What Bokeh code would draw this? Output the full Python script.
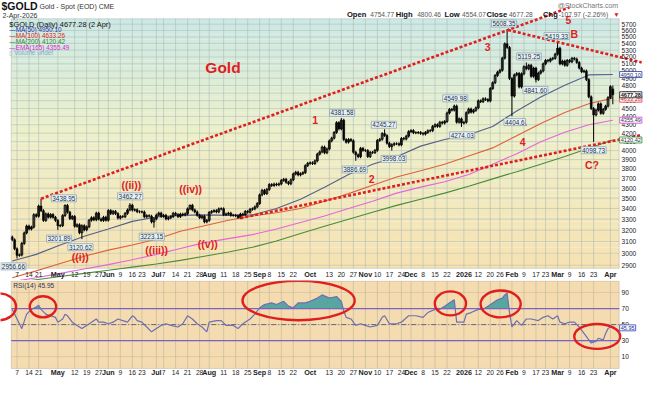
import math
import pandas as pd
from bokeh.plotting import figure
from bokeh.models import Range1d, Label, BoxAnnotation
from bokeh.layouts import column
from bokeh.embed import file_html
from bokeh.resources import INLINE

FONT = "Liberation Sans"

# ---------------- DATA ----------------
holidays = ["2025-04-18", "2025-05-26", "2025-06-19", "2025-07-04", "2025-09-01",
            "2025-11-27", "2025-12-25", "2026-01-01", "2026-01-19", "2026-02-16"]

closes = [
    3115, 3037, 2982, 2985, 3083, 3175, 3237, 3210, 3228, 3342, 3327, 3424, 3380, 3288, 3349, 3319,
    3343, 3317, 3288, 3239, 3241, 3334, 3430, 3365, 3305, 3325, 3235, 3249, 3176, 3240, 3203, 3230,
    3290, 3314, 3294, 3357, 3301, 3288, 3318, 3290, 3381, 3352, 3373, 3352, 3310, 3325, 3323, 3354,
    3387, 3432, 3385, 3388, 3370, 3368, 3368, 3322, 3333, 3328, 3274, 3303, 3338, 3357, 3326, 3336,
    3302, 3313, 3324, 3355, 3343, 3324, 3347, 3339, 3350, 3397, 3431, 3387, 3368, 3337, 3314, 3327,
    3275, 3289, 3363, 3373, 3380, 3368, 3397, 3398, 3342, 3348, 3356, 3336, 3336, 3332, 3316, 3347,
    3339, 3372, 3365, 3393, 3397, 3416, 3448, 3533, 3578, 3545, 3587, 3636, 3627, 3641, 3634, 3643,
    3679, 3690, 3659, 3644, 3685, 3746, 3764, 3736, 3749, 3760, 3834, 3859, 3865, 3857, 3886, 3960,
    3985, 4040, 3975, 4018, 4110, 4142, 4208, 4326, 4250, 4356, 4125, 4095, 4126, 4112, 3981, 3952,
    3931, 4025, 4002, 4000, 3933, 3980, 3977, 4002, 4115, 4128, 4195, 4172, 4083, 4045, 4066, 4078,
    4077, 4064, 4138, 4131, 4164, 4218, 4230, 4205, 4205, 4208, 4197, 4189, 4208, 4228, 4230, 4280,
    4300, 4280, 4330, 4320, 4340, 4444, 4490, 4480, 4532, 4331, 4372, 4320, 4330, 4447, 4494, 4455,
    4477, 4509, 4598, 4588, 4625, 4615, 4597, 4760, 4838, 4937, 4983, 5010, 5183, 5395, 5340, 4895,
    4660, 4945, 4965, 4780, 4960, 5060, 5030, 5080, 4925, 5040, 4880, 4970, 5000, 5100, 5150, 5140,
    5170, 5180, 5240, 5330, 5100, 5140, 5080, 5150, 5130, 5180, 5170, 5120, 5040, 4990, 5000, 4880,
    4650, 4500, 4420, 4480, 4560, 4440, 4490, 4530, 4640, 4785.25, 4677.28]

open_marks = {0: 3140, 250: 4754.77}
high_marks = {12: 3495, 22: 3440, 49: 3452, 74: 3438, 137: 4381.58, 155: 4245.27, 184: 4549.98,
              206: 5608.35, 214: 5119.25, 227: 5419.33, 250: 4800.46}
low_marks = {2: 2956.66, 19: 3201.89, 29: 3120.62, 59: 3223.15, 143: 3886.69, 158: 3998.03,
             187: 4274.03, 208: 4404.6, 218: 4841.60, 242: 4098.73, 250: 4554.07}
WICK = 0.004  # drawing extension of ordinary wicks

ma_idx = list(range(0, 251, 10))
ma50 = [2935, 2990, 3070, 3145, 3210, 3280, 3320, 3335, 3340, 3335, 3340, 3400, 3490, 3610, 3740,
        3850, 3930, 4050, 4125, 4180, 4280, 4470, 4648, 4805, 4945, 4950.10]
ma100 = [2800, 2855, 2915, 2975, 3026, 3070, 3120, 3190, 3240, 3290, 3330, 3360, 3400, 3470, 3545,
         3630, 3715, 3780, 3850, 3940, 4030, 4170, 4315, 4450, 4560, 4633.26]
ema165 = [2770, 2800, 2835, 2870, 2905, 2945, 2990, 3040, 3090, 3125, 3160, 3210, 3270, 3330, 3400,
          3470, 3550, 3610, 3665, 3740, 3850, 3965, 4100, 4210, 4300, 4355.49]
ma200 = [2760, 2785, 2810, 2835, 2860, 2885, 2910, 2940, 2975, 3010, 3050, 3105, 3170, 3235, 3300,
         3365, 3430, 3490, 3550, 3620, 3695, 3770, 3850, 3935, 4025, 4120.42]

rsi_idx = [0, 4, 6, 8, 10, 11, 12, 14, 16, 18, 19, 21, 22, 23, 25, 27, 29, 31, 33, 35, 36, 38, 40, 42,
           44, 46, 48, 50, 51, 52, 54, 56, 58, 60, 62, 64, 66, 69, 71, 73, 75, 77, 79, 81, 82, 85, 87,
           89, 92, 94, 96, 99, 101, 103, 105, 108, 110, 113, 115, 117, 119, 122, 124, 127, 129, 132,
           135, 137, 138, 139, 141, 143, 145, 147, 149, 152, 154, 155, 157, 160, 162, 165, 168, 171,
           173, 176, 178, 180, 183, 184, 185, 188, 189, 191, 194, 196, 198, 200, 202, 204, 205, 206,
           207, 208, 210, 212, 214, 216, 219, 221, 223, 225, 227, 228, 230, 232, 234, 236, 237, 239,
           241, 243, 244, 246, 247, 248, 249, 250]
rsi_val = [69, 45, 63, 69, 72, 74, 69, 63, 61, 59, 53, 57, 63, 61, 53, 49, 45, 49, 53, 57, 53, 53, 51,
           53, 57, 55, 53, 61, 59, 55, 53, 47, 41, 45, 49, 51, 49, 47, 51, 61, 57, 51, 47, 41, 53, 55,
           55, 49, 49, 45, 51, 57, 63, 71, 75, 77, 75, 79, 73, 71, 77, 77, 79, 83, 87, 83, 85, 79, 67,
           59, 57, 49, 51, 49, 47, 49, 59, 61, 51, 51, 53, 61, 61, 59, 65, 69, 69, 73, 79, 81, 53, 53,
           63, 65, 69, 69, 73, 77, 81, 83, 87, 89, 65, 47, 55, 49, 57, 57, 55, 59, 61, 57, 61, 53, 51,
           53, 53, 47, 43, 35, 27, 29, 33, 31, 39, 45, 47, 45.95]

price_ticks = list(range(2900, 5800, 100))
rsi_ticks = [10, 30, 50, 70, 90]

tick_dates = ["2025-04-07", "2025-04-14", "2025-04-21", "2025-05-01", "2025-05-12", "2025-05-19",
              "2025-05-27", "2025-06-02", "2025-06-09", "2025-06-16", "2025-06-23", "2025-07-01",
              "2025-07-07", "2025-07-14", "2025-07-21", "2025-07-28", "2025-08-01", "2025-08-11",
              "2025-08-18", "2025-08-25", "2025-09-02", "2025-09-08", "2025-09-15", "2025-09-22",
              "2025-10-01", "2025-10-13", "2025-10-20", "2025-10-27", "2025-11-03", "2025-11-10",
              "2025-11-17", "2025-11-24", "2025-12-01", "2025-12-08", "2025-12-15", "2025-12-22",
              "2026-01-02", "2026-01-12", "2026-01-20", "2026-01-26", "2026-02-02", "2026-02-09",
              "2026-02-17", "2026-02-23", "2026-03-02", "2026-03-09", "2026-03-16", "2026-03-23",
              "2026-04-01"]
tick_text = ["7", "14", "21", "May", "12", "19", "27", "Jun", "9", "16", "23", "Jul", "7", "14", "21",
             "28", "Aug", "11", "18", "25", "Sep", "8", "15", "22", "Oct", "13", "20", "27", "Nov",
             "10", "17", "24", "Dec", "8", "15", "22", "2026", "12", "20", "26", "Feb", "9", "17",
             "23", "Mar", "9", "16", "23", "Apr"]

# annotations: (text, index, price)
wave_labels = [("1", 126.1, 4363), ("2", 149.6, 3693), ("3", 197.9, 5353), ("4", 212.5, 4102),
               ("5", 231.5, 5770), ("A", 212.7, 4332), ("B", 234.0, 5544), ("C?", 241.3, 3840),
               ("((i))", 28.3, 2970), ("((ii))", 49.6, 3629), ("((iii))", 60.1, 3026),
               ("((iv))", 74.3, 3590), ("((v))", 81.4, 3080)]
price_notes = [("2956.66", 0.5, 2891), ("3438.95", 21.5, 3499), ("3201.89", 19.5, 3125),
               ("3120.62", 28.4, 3051), ("3462.27", 49.1, 3518), ("3223.15", 58.1, 3142),
               ("4381.58", 137.3, 4446), ("3886.69", 142.6, 3793), ("4245.27", 154.7, 4300),
               ("3998.03", 158.8, 3908), ("4549.98", 184.4, 4630), ("4274.03", 187.3, 4174),
               ("5608.35", 204.7, 5711), ("5119.25", 215.1, 5207), ("4404.6", 209.2, 4332),
               ("4841.60", 217.8, 4739), ("5419.33", 226.6, 5514), ("4098.73", 242.0, 4004)]
# trend lines (index, price)
trend_up = ([12.0, 206.4, 232.0], [3495, 5608.35, 5975])
trend_down = ([206.4, 262.0], [5608.35, 5121])
trend_low = ([95.0, 262.0], [3310, 4179])
# RSI ellipses: (index, rsi, width, height)
rsi_rings = [(-5.7, 72.2, 14.6, 33.5), (12.8, 72.2, 11.0, 26.3), (119.2, 80.0, 46.7, 49.0),
             (182.4, 76.4, 13.0, 29.9), (203.3, 75.8, 16.7, 33.5), (243.5, 35.2, 19.1, 31.0)]

# ---------------- LAYOUT HELPERS (reference-pixel -> axis units, for page furniture) ----------
def rx(x):
    return (x - 12.0) / 2.462


def ry(y):
    return 5700 * math.exp(-(y - 24.7) / 371.6)


def rr(y):
    return (379.4 - y) / 0.836


def lab(fig, x, y, text, size, color="#000000", style="normal", align="left",
        baseline="middle", bg=None, border=None, pad=0, bw=0.8):
    kw = dict(x=x, y=y, text=text, text_font=FONT, text_font_size=f"{size}px",
              text_color=color, text_font_style=style, text_align=align,
              text_baseline=baseline)
    if bg:
        kw.update(background_fill_color=bg, background_fill_alpha=1.0)
    if border:
        kw.update(border_line_color=border, border_line_width=bw)
    if pad:
        kw.update(padding=pad)
    fig.add_layout(Label(**kw))


days = [d for d in pd.bdate_range("2025-04-03", "2026-04-02")
        if d.strftime("%Y-%m-%d") not in holidays]
day_pos = {d.strftime("%Y-%m-%d"): i for i, d in enumerate(days)}
tick_idx = [day_pos[d] for d in tick_dates]

W = 646
XL, XR = rx(11), rx(634)          # inner panel edges
PB, PT = ry(279), ry(19)          # price panel bottom / top
RB, RT = rr(383.3), rr(292.3)     # rsi panel bottom / top
GRID = "#b0bcb4"


def base_fig(height, yr, log=False):
    f = figure(width=W, height=height, output_backend="svg", toolbar_location=None,
               x_range=Range1d(rx(0), rx(662)), y_range=yr,
               y_axis_type="log" if log else "linear",
               x_axis_location=None, y_axis_location=None,
               min_border=0, min_border_left=0, min_border_right=0,
               min_border_top=0, min_border_bottom=0)
    f.outline_line_color = None
    f.background_fill_color = "white"
    f.border_fill_color = "white"
    f.xgrid.visible = False
    f.ygrid.visible = False
    return f


# ---------------- PRICE PANEL ----------------
p = base_fig(280, Range1d(ry(280 / 0.96), ry(0)), log=True)

stops = [(0.0, (203, 233, 230)), (0.45, (236, 240, 203)), (1.0, (247, 226, 178))]


def grad(t):
    for (t0, c0), (t1, c1) in zip(stops[:-1], stops[1:]):
        if t <= t1:
            f = (t - t0) / (t1 - t0)
            return "#%02x%02x%02x" % tuple(int(round(a + (b - a) * f)) for a, b in zip(c0, c1))
    return "#%02x%02x%02x" % stops[-1][1]


lo, hi = math.log(PB), math.log(PT)
NB = 48
for k in range(NB):
    b = math.exp(lo + (hi - lo) * k / NB)
    t = math.exp(lo + (hi - lo) * min(k + 1.03, NB) / NB)
    p.add_layout(BoxAnnotation(left=XL, right=XR, bottom=b, top=t,
                               fill_color=grad(1 - (k + 0.5) / NB),
                               fill_alpha=1.0, line_alpha=0, level="image"))

# grid
p.segment([XL] * len(price_ticks), price_ticks, [XR] * len(price_ticks), price_ticks,
          line_color=GRID, line_alpha=0.55, line_width=1, level="underlay")
p.segment(tick_idx, [PB] * len(tick_idx), tick_idx, [PT] * len(tick_idx),
          line_color=GRID, line_alpha=0.6, line_width=1, level="underlay")
for t in price_ticks:
    lab(p, rx(636.5), t, str(t), 6.6, "#222222")

# moving averages
p.line(ma_idx, ma200, line_color="#4a8c36", line_width=1.1)
p.line(ma_idx, ema165, line_color="#e466d8", line_width=1.1)
p.line(ma_idx, ma100, line_color="#e0603a", line_width=1.1)
p.line(ma_idx, ma50, line_color="#55608a", line_width=1.1)

# candles
n = len(closes)
opens, highs, lows = [], [], []
for i in range(n):
    o = open_marks.get(i, closes[i - 1] if i > 0 else closes[0])
    c = closes[i]
    opens.append(o)
    highs.append(high_marks.get(i, max(o, c) * (1 + WICK)))
    lows.append(low_marks.get(i, min(o, c) * (1 - WICK)))
xs = list(range(n))
p.segment(xs, highs, xs, lows, line_color="black", line_width=1)
up = [i for i in xs if closes[i] >= opens[i]]
dn = [i for i in xs if closes[i] < opens[i]]
p.vbar(x=up, top=[closes[i] for i in up], bottom=[opens[i] for i in up], width=0.75,
       fill_alpha=0, line_color="black", line_width=0.9)
p.vbar(x=dn, top=[opens[i] for i in dn], bottom=[closes[i] for i in dn], width=0.75,
       fill_color="black", line_color="black", line_width=0.6)

# trend lines
for lx, ly in [trend_up, trend_down, trend_low]:
    p.line(lx, ly, line_color="#e01e1e", line_width=2.6, line_dash="3 2")

# frame
p.add_layout(BoxAnnotation(left=XL, right=XR, bottom=PB, top=PT, fill_alpha=0,
                           line_color="#8a8a8a", line_width=1))

# annotations
lab(p, rx(228), ry(70), "Gold", 15.5, "#e01e1e", "bold", "center")
for t, xi, pr in wave_labels:
    lab(p, xi, pr, t, 10.5, "#e01e1e", "bold", "center")
for t, xi, pr in price_notes:
    lab(p, xi, pr, t, 6.4, "#203048", "normal", "center", bg="#eaf4f6", border="#90a4b4", pad=1)

# legend
lab(p, rx(9), ry(24.5), "$GOLD (Daily) 4677.28 (2 Apr)", 7.4, "#111111", "normal")
legend_rows = [("—MA(50) 4950.10", "#1f32a8"), ("—MA(100) 4633.26", "#e02424"),
               ("—MA(200) 4120.42", "#2a8a2a"), ("—EMA(165) 4355.49", "#dd28d0"),
               ("▯ Volume undef", "#7fb0d0")]
for k, (t, c) in enumerate(legend_rows):
    lab(p, rx(9), ry(30.5 + 6 * k), t, 6.4, c)

# header
lab(p, rx(1), ry(6), "$GOLD", 10.5, "#111111", "bold")
lab(p, rx(40), ry(6.5), "Gold - Spot (EOD) CME", 7, "#333333")
lab(p, rx(2), ry(15.5), "2-Apr-2026", 7, "#333333")
lab(p, rx(633), ry(5.5), "@StockCharts.com", 7, "#777777", "normal", "right")
hdr = [("Open", 355, True), ("4754.77", 379, False), ("High", 405, True), ("4800.46", 427, False),
       ("Low", 455, True), ("4554.07", 473, False), ("Close", 498, True), ("4677.28", 521, False),
       ("Chg", 556, True), ("-107.97 (-2.26%)", 572, False)]
for t, x, b in hdr:
    lab(p, rx(x), ry(15), t, 7.6 if b else 6.6, "#111111" if b else "#555555",
        "bold" if b else "normal")
lab(p, rx(628), ry(15), "▼", 6.5, "#e01e1e")

# right value boxes
vboxes = [("4950.10", 4950.10, "#2838a0", "#203080", "normal"),
          ("4633.26", 4620, "#e03030", "#d02020", "normal"),
          ("4677.28", 4677.28, "#111111", "#111111", "bold"),
          ("4355.49", 4355.49, "#d040c8", "#303050", "normal"),
          ("4120.42", 4120.42, "#2a8a2a", "#303050", "normal")]
for t, pr, bc, tc, st in vboxes:
    lab(p, rx(634.5), pr, t, 5.6, tc, st, "left", bg="#ffffff", border=bc, pad=1)

# x labels under price panel
for xi, t in zip(tick_idx, tick_text):
    bold = (not t.isdigit()) or t == "2026"
    lab(p, xi, ry(285.5), t, 7.2 if bold else 6.7, "#222222", "bold" if bold else "normal", "center")

# ---------------- RSI PANEL ----------------
r = base_fig(99, Range1d(rr(379 / 0.96), rr(280 / 0.96)))
r.x_range = p.x_range
r.add_layout(BoxAnnotation(left=XL, right=XR, bottom=RB, top=RT, fill_color="#f5dcb0",
                           fill_alpha=1.0, line_alpha=0, level="image"))
r.segment([XL] * len(rsi_ticks), rsi_ticks, [XR] * len(rsi_ticks), rsi_ticks,
          line_color="#c8b89a", line_alpha=0.5, line_width=1, level="underlay")
r.segment(tick_idx, [RB] * len(tick_idx), tick_idx, [RT] * len(tick_idx),
          line_color="#c0b49a", line_alpha=0.6, line_width=1, level="underlay")
for t in rsi_ticks:
    lab(r, rx(636.5), t, str(t), 6.6, "#222222")


def fill_pts(level):
    fx, fy = [], []
    for k in range(len(rsi_idx)):
        if k > 0:
            x0, y0, x1, y1 = rsi_idx[k - 1], rsi_val[k - 1], rsi_idx[k], rsi_val[k]
            if (y0 - level) * (y1 - level) < 0:
                f = (level - y0) / (y1 - y0)
                fx.append(x0 + f * (x1 - x0))
                fy.append(level)
        fx.append(rsi_idx[k])
        fy.append(rsi_val[k])
    return fx, fy


fx, fy = fill_pts(70)
r.varea(x=fx, y1=[70] * len(fx), y2=[max(v, 70) for v in fy], fill_color="#58a6a2", fill_alpha=1)
fx, fy = fill_pts(30)
r.varea(x=fx, y1=[30] * len(fx), y2=[min(v, 30) for v in fy], fill_color="#58a6a2", fill_alpha=1)

r.segment([XL, XL], [70, 30], [XR, XR], [70, 30], line_color="#7a62c8", line_width=1.2)
r.segment([XL], [50], [XR], [50], line_color="#666680", line_width=1, line_dash="5 2 1 2")
r.line(rsi_idx, rsi_val, line_color="#6e6eb4", line_width=1.2)

r.add_layout(BoxAnnotation(left=XL, right=XR, bottom=RB, top=RT, fill_alpha=0,
                           line_color="#8a8a8a", line_width=1))

for xi, yi, w, h in rsi_rings:
    r.ellipse(x=xi, y=yi, width=w, height=h, fill_alpha=0, line_color="#e01e1e", line_width=2.4)

lab(r, rx(13), rr(296.5), "RSI(14) 45.95", 6.6, "#333355")
lab(r, rx(634.5), 45.95, "45.95", 5.6, "#203080", "normal", "left", bg="#ffffff",
    border="#3040c0", pad=1)
for xi, t in zip(tick_idx, tick_text):
    bold = (not t.isdigit()) or t == "2026"
    lab(r, xi, rr(387.5), t, 7.2 if bold else 6.7, "#222222", "bold" if bold else "normal", "center")

layout = column(p, r, spacing=0)
open("out.html", "w").write(file_html(layout, INLINE))
